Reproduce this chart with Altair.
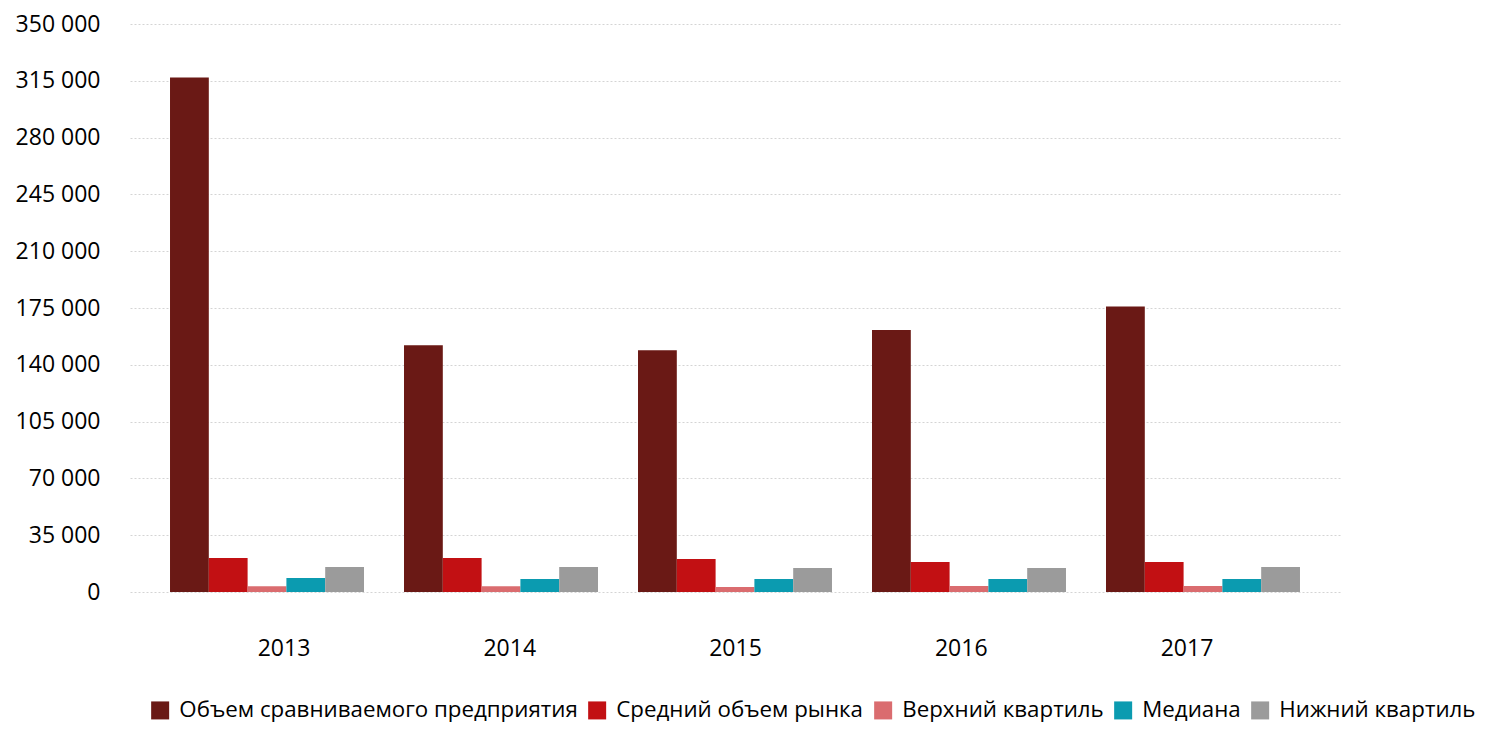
import altair as alt
import pandas as pd

years = ["2013", "2014", "2015", "2016", "2017"]
series = [
    "Объем сравниваемого предприятия",
    "Средний объем рынка",
    "Верхний квартиль",
    "Медиана",
    "Нижний квартиль",
]
company = [317000, 152000, 149000, 161500, 176000]
market_avg = [21000, 21000, 20300, 18500, 18500]
upper_q = [3500, 3500, 3100, 3700, 3700]
median = [8600, 8000, 8000, 8000, 8000]
lower_q = [15400, 15400, 14800, 14800, 15400]
colors = ["#6A1915", "#C21013", "#DA6C6F", "#0B9BB0", "#9B9B9B"]
y_ticks = [0, 35000, 70000, 105000, 140000, 175000, 210000, 245000, 280000, 315000, 350000]

rows = []
for s, vals in zip(series, [company, market_avg, upper_q, median, lower_q]):
    for yr, v in zip(years, vals):
        rows.append({"year": yr, "series": s, "value": v})
df = pd.DataFrame(rows)

FONT = "Open Sans"

bars = alt.Chart(df).mark_bar().encode(
    x=alt.X("year:N", sort=years, axis=None,
            scale=alt.Scale(paddingInner=0.171, paddingOuter=0.171)),
    xOffset=alt.XOffset("series:N", sort=series,
                        scale=alt.Scale(paddingInner=0, paddingOuter=0)),
    y=alt.Y("value:Q",
            scale=alt.Scale(domain=[0, 350000], nice=False, zero=True),
            axis=alt.Axis(values=y_ticks, title=None,
                          labelExpr="replace(format(datum.value, ','), ',', ' ')",
                          ticks=False, domain=False, grid=True,
                          gridColor="#d4d4d4", gridDash=[2, 2], gridWidth=1,
                          labelPadding=30, labelFontSize=23, labelFont=FONT,
                          labelColor="#000000")),
    color=alt.Color("series:N", sort=series,
                    scale=alt.Scale(domain=series, range=colors),
                    legend=alt.Legend(orient="none", legendX=19, legendY=675,
                                      direction="horizontal", columns=5,
                                      symbolType="square", symbolSize=324,
                                      symbolStrokeWidth=0, symbolOpacity=1,
                                      labelFontSize=22.3, labelFont=FONT,
                                      labelColor="#000000", labelOffset=8,
                                      columnPadding=8, labelLimit=0,
                                      title=None)),
)

labels = alt.Chart(pd.DataFrame({"year": years})).mark_point(opacity=0).encode(
    x=alt.X("year:N", sort=years,
            scale=alt.Scale(type="point", padding=0.68),
            axis=alt.Axis(title=None, ticks=False, domain=False, grid=False,
                          labelPadding=45, labelFontSize=23, labelFont=FONT,
                          labelAngle=0, labelColor="#000000")),
)

chart = alt.layer(bars, labels).resolve_scale(x="independent").properties(
    width=1210, height=568,
    autosize=alt.AutoSizeParams(type="none"),
    padding={"left": 122, "top": 16, "right": 140, "bottom": 134},
).configure_view(stroke=None)

chart.save("out.html", embed_options={"renderer": "svg", "actions": False})
